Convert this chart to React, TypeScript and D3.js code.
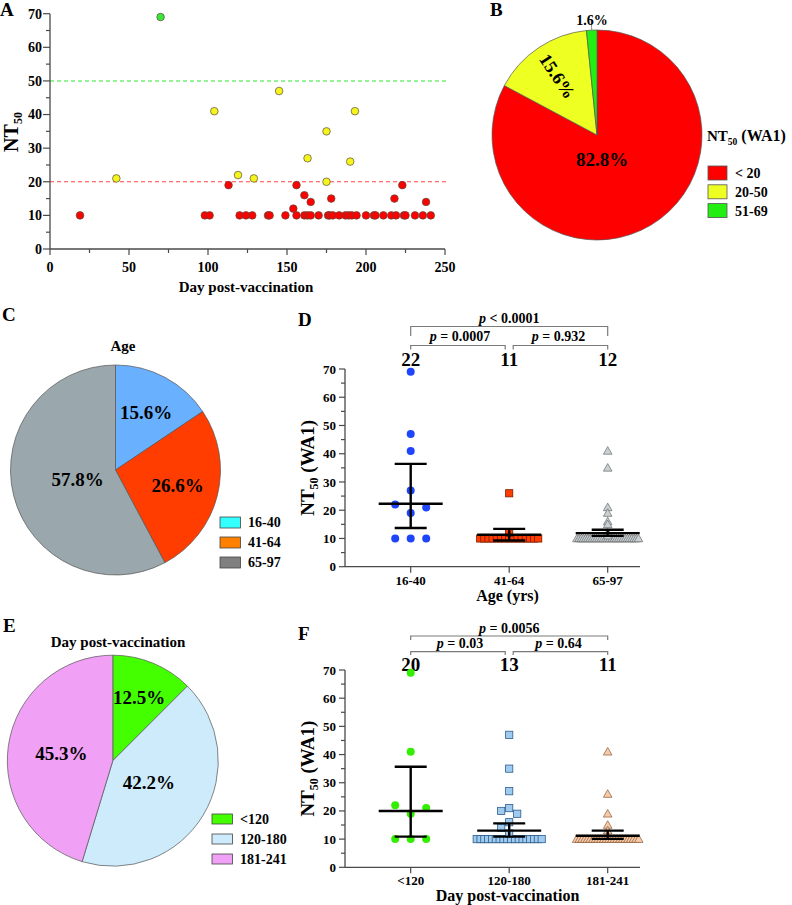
import React from "react";
import * as d3 from "d3";

const FONT = "Liberation Serif, DejaVu Serif, serif";

// ---------------- Panel A data ----------------
const redDay = [19, 98, 101, 113, 120, 124, 128, 138, 139, 149, 154, 156, 156, 161, 161, 163, 165, 165, 170, 176, 177, 178, 179, 183, 187, 189, 191, 194, 200, 205, 206, 211, 216, 218, 219, 223, 224, 225, 231, 236, 238, 241];
const redNT = [10, 10, 10, 19, 10, 10, 10, 10, 10, 10, 12, 10, 19, 10, 16, 10, 10, 14, 10, 10, 10, 15, 10, 10, 10, 10, 10, 10, 10, 10, 10, 10, 10, 15, 10, 19, 10, 10, 10, 10, 14, 10];
const yellowDay = [42, 104, 119, 129, 145, 163, 175, 175, 190, 193];
const yellowNT = [21, 41, 22, 21, 47, 27, 35, 20, 26, 41];
const greenDay = [70];
const greenNT = [69];
const aXTicks = [0, 50, 100, 150, 200, 250];
const aYTicks = [0, 10, 20, 30, 40, 50, 60, 70];
const aCutoffs = [50, 20];

// ---------------- Pie data ----------------
const ntCats = ["< 20", "20-50", "51-69"];
const ntPct = [82.8, 15.6, 1.6];
const ageCats = ["16-40", "41-64", "65-97"];
const agePct = [15.6, 26.6, 57.8];
const dayCats = ["<120", "120-180", "181-241"];
const dayPct = [12.5, 42.2, 45.3];

// ---------------- Panel D data ----------------
const age1640 = [69, 47, 41, 27, 19, 22, 21, 10, 10, 10];
const age4164 = [26, 12, 10, 10, 10, 10, 10, 10, 10, 10, 10, 10, 10, 10, 10, 10, 10];
const age6597 = [41, 35, 21, 19, 16, 15, 12, 11, 10, 10, 10, 10, 10, 10, 10, 10, 10, 10, 10, 10, 10, 10, 10, 10, 10, 10, 10, 10, 10, 10, 10, 10, 10, 10, 10, 10, 10];
const ageMean = [22.3, 11.3, 11.9];
const ageUpper = [36.4, 13.4, 13.1];
const ageLower = [13.7, 9.3, 10.9];
const ageCounts = ["22", "11", "12"];
const ageP = ["= 0.0007", "= 0.932", "< 0.0001"];

// ---------------- Panel F data ----------------
const day120 = [69, 41, 19, 22, 21, 10, 10, 10];
const day120180 = [47, 35, 27, 21, 20, 19, 16, 14, 12, 10, 10, 10, 10, 10, 10, 10, 10, 10, 10, 10, 10, 10, 10, 10, 10, 10, 10];
const day181241 = [41, 26, 19, 15, 13, 10, 10, 10, 10, 10, 10, 10, 10, 10, 10, 10, 10, 10, 10, 10, 10, 10, 10, 10, 10, 10, 10, 10, 10];
const dayMean = [20, 13, 11.2];
const dayUpper = [35.7, 15.6, 13];
const dayLower = [10.9, 10.9, 10.1];
const dayCounts = ["20", "13", "11"];
const dayP = ["= 0.03", "= 0.64", "= 0.0056"];

const dotYTicks = [0, 10, 20, 30, 40, 50, 60, 70];

const AXIS = "#4a4a4a";

function PanelA() {
  const x = d3.scaleLinear().domain([0, 250]).range([50, 445]);
  const y = d3.scaleLinear().domain([0, 70]).range([249, 13.7]);
  const xMinor = d3.range(25, 250, 50);
  const yMinor = d3.range(5, 70, 10);
  const cutColors = ["#2ee62e", "#ff4646"];
  const pts = (days: number[], vals: number[], fill: string) =>
    days.map((d, i) => (
      <circle key={fill + i} cx={x(d)} cy={y(vals[i])} r={3.8} fill={fill} stroke="#5a4a3a" strokeWidth={0.7} />
    ));
  return (
    <g>
      <text x={0} y={16} fontSize={19}>A</text>
      {aCutoffs.map((c, i) => (
        <line key={c} x1={x(0)} x2={447} y1={y(c)} y2={y(c)} stroke={cutColors[i]} strokeWidth={1.1} strokeDasharray="4,3" />
      ))}
      <line x1={x(0)} x2={x(0)} y1={y(0)} y2={y(70)} stroke={AXIS} strokeWidth={1.3} />
      <line x1={x(0)} x2={x(250)} y1={y(0)} y2={y(0)} stroke={AXIS} strokeWidth={1.3} />
      {aYTicks.map((t) => (
        <g key={"ay" + t}>
          <line x1={x(0) - 7} x2={x(0)} y1={y(t)} y2={y(t)} stroke={AXIS} strokeWidth={1.2} />
          <text x={42} y={y(t)} dy="0.35em" textAnchor="end" fontSize={14}>{t}</text>
        </g>
      ))}
      {yMinor.map((t) => (
        <line key={"aym" + t} x1={x(0) - 4} x2={x(0)} y1={y(t)} y2={y(t)} stroke={AXIS} strokeWidth={1.2} />
      ))}
      {aXTicks.map((t) => (
        <g key={"ax" + t}>
          <line x1={x(t)} x2={x(t)} y1={y(0)} y2={y(0) + 6} stroke={AXIS} strokeWidth={1.2} />
          <text x={x(t)} y={272} textAnchor="middle" fontSize={14}>{t}</text>
        </g>
      ))}
      {xMinor.map((t) => (
        <line key={"axm" + t} x1={x(t)} x2={x(t)} y1={y(0)} y2={y(0) + 4} stroke={AXIS} strokeWidth={1.2} />
      ))}
      <text x={246} y={292} textAnchor="middle" fontSize={15}>Day post-vaccination</text>
      <text transform="translate(18,132) rotate(-90)" textAnchor="middle" fontSize={20}>
        NT<tspan fontSize={12} dy={4}>50</tspan>
      </text>
      {pts(redDay, redNT, "#ff0000")}
      {pts(yellowDay, yellowNT, "#f5f51e")}
      {pts(greenDay, greenNT, "#3ae63a")}
    </g>
  );
}

function PanelB() {
  const cx = 597, cy = 135, r = 105;
  const colors = ["#ff0000", "#eeff22", "#22ee11"];
  const arcs = d3.pie<number>().sort(null)(ntPct);
  const arc = d3.arc<d3.PieArcDatum<number>>().innerRadius(0).outerRadius(r);
  const yMid = (arcs[1].startAngle + arcs[1].endAngle) / 2;
  const yl = [Math.sin(yMid) * 71, -Math.cos(yMid) * 71];
  const rot = (Math.atan2(Math.cos(yMid), -Math.sin(yMid)) * 180) / Math.PI;
  const gMid = (arcs[2].startAngle + arcs[2].endAngle) / 2;
  return (
    <g>
      <text x={490} y={16} fontSize={19}>B</text>
      <g transform={`translate(${cx},${cy})`}>
        {arcs.map((a, i) => (
          <path key={i} d={arc(a) || ""} fill={colors[i]} stroke="#555" strokeWidth={0.7} />
        ))}
        <text x={5} y={24} dy="0.35em" textAnchor="middle" fontSize={19}>{ntPct[0]}%</text>
        <text transform={`translate(${yl[0]},${yl[1]}) rotate(${rot})`} dy="0.35em" textAnchor="middle" fontSize={18}>{ntPct[1]}%</text>
        <line x1={Math.sin(gMid) * (r + 10)} y1={-Math.cos(gMid) * (r + 10)} x2={Math.sin(gMid) * r} y2={-Math.cos(gMid) * r} stroke="#777" strokeWidth={0.8} />
        <text x={-5} y={-115} dy="0.35em" textAnchor="middle" fontSize={14}>{ntPct[2]}%</text>
      </g>
      <text x={707} y={141} fontSize={15}>
        NT<tspan fontSize={9.5} dy={4}>50</tspan><tspan fontSize={16} dy={-4}> (WA1)</tspan>
      </text>
      {ntCats.map((c, i) => (
        <g key={c}>
          <rect x={708} y={166 + i * 18.8} width={19} height={14} fill={colors[i]} stroke="#555" strokeWidth={0.8} />
          <text x={735} y={173 + i * 18.8} dy="0.35em" fontSize={14}>{c}</text>
        </g>
      ))}
    </g>
  );
}

function Pie(props: {
  letter: string; lx: number; ly: number; title: string; tx: number; ty: number;
  cx: number; cy: number; r: number; pcts: number[]; cats: string[]; colors: string[]; legColors: string[];
  labelR: number[]; legX: number; legY: number; legStep: number; legH: number;
}) {
  const arcs = d3.pie<number>().sort(null)(props.pcts);
  const arc = d3.arc<d3.PieArcDatum<number>>().innerRadius(0).outerRadius(props.r);
  return (
    <g>
      <text x={props.lx} y={props.ly} fontSize={19}>{props.letter}</text>
      <text x={props.tx} y={props.ty} textAnchor="middle" fontSize={15}>{props.title}</text>
      <g transform={`translate(${props.cx},${props.cy})`}>
        {arcs.map((a, i) => (
          <path key={i} d={arc(a) || ""} fill={props.colors[i]} stroke="#555" strokeWidth={0.7} />
        ))}
        {arcs.map((a, i) => {
          const m = (a.startAngle + a.endAngle) / 2;
          return (
            <text key={"l" + i} x={Math.sin(m) * props.labelR[i]} y={-Math.cos(m) * props.labelR[i]} dy="0.35em" textAnchor="middle" fontSize={19}>
              {props.pcts[i]}%
            </text>
          );
        })}
      </g>
      {props.cats.map((c, i) => (
        <g key={c}>
          <rect x={props.legX} y={props.legY + i * props.legStep} width={20.5} height={props.legH} fill={props.legColors[i]} stroke="#444" strokeWidth={0.8} />
          <text x={props.legX + 28} y={props.legY + i * props.legStep + props.legH / 2} dy="0.35em" fontSize={14}>{c}</text>
        </g>
      ))}
    </g>
  );
}

function swarm(values: number[], y: (v: number) => number, step: number, maxHalf: number, collide: number) {
  const counts = new Map<number, number>();
  values.forEach((v) => counts.set(v, (counts.get(v) || 0) + 1));
  const placed: { v: number; dx: number }[] = [];
  counts.forEach((n, v) => {
    if (n > 1) {
      const half = Math.min(((n - 1) * step) / 2, maxHalf);
      for (let k = 0; k < n; k++) placed.push({ v, dx: -half + (2 * half * k) / (n - 1) });
    }
  });
  values.forEach((v) => {
    if ((counts.get(v) || 0) > 1) return;
    const cands = [0, -step, step, -2 * step, 2 * step];
    for (const c of cands) {
      const hit = placed.some((p) => Math.abs(y(p.v) - y(v)) < collide && Math.abs(p.dx - c) < collide);
      if (!hit) {
        placed.push({ v, dx: c });
        return;
      }
    }
    placed.push({ v, dx: 0 });
  });
  return placed;
}

type Marker = { shape: "circle" | "square" | "triangle"; fill: string; stroke: string; step: number; maxHalf: number; collide: number };

function DotPanel(props: {
  letter: string; lx: number; ly: number;
  cats: string[]; groups: number[][]; means: number[]; uppers: number[]; lowers: number[];
  counts: string[]; pvals: string[]; y0: number; y70: number; markers: Marker[];
  topTextY: number; topLineY: number; topLegY: number; lowTextY: number; lowLineY: number; lowLegY: number; countY: number;
  xTitle: string; tickY: number; xTitleY: number;
}) {
  const y = d3.scaleLinear().domain([0, 70]).range([props.y0, props.y70]);
  const x = d3.scalePoint<string>().domain(props.cats).range([410.7, 607.7]);
  const axX = 345;
  const minor = d3.range(5, 70, 10);
  const BR = "#7a7a7a";
  const cx = props.cats.map((c) => x(c) as number);
  const mk = (m: Marker, px: number, py: number, key: string) => {
    if (m.shape === "circle") return <circle key={key} cx={px} cy={py} r={4} fill={m.fill} />;
    if (m.shape === "square") return <rect key={key} x={px - 3.6} y={py - 3.6} width={7.2} height={7.2} fill={m.fill} stroke={m.stroke} strokeWidth={0.8} />;
    return <path key={key} d={`M${px},${py - 4.3}L${px + 4.3},${py + 3.3}L${px - 4.3},${py + 3.3}Z`} fill={m.fill} stroke={m.stroke} strokeWidth={0.7} />;
  };
  return (
    <g>
      <text x={props.lx} y={props.ly} fontSize={19}>{props.letter}</text>
      {/* brackets */}
      <path d={`M${cx[0]},${props.topLegY}V${props.topLineY}H${cx[2]}V${props.topLegY}`} fill="none" stroke={BR} strokeWidth={1.2} />
      <path d={`M${cx[0]},${props.lowLegY}V${props.lowLineY}H${cx[1] - 4}V${props.lowLegY}`} fill="none" stroke={BR} strokeWidth={1.2} />
      <path d={`M${cx[1] + 4},${props.lowLegY}V${props.lowLineY}H${cx[2]}V${props.lowLegY}`} fill="none" stroke={BR} strokeWidth={1.2} />
      <text x={(cx[0] + cx[2]) / 2} y={props.topTextY} textAnchor="middle" fontSize={14}>
        <tspan fontStyle="italic">p</tspan> {props.pvals[2]}
      </text>
      <text x={(cx[0] + cx[1]) / 2} y={props.lowTextY} textAnchor="middle" fontSize={14}>
        <tspan fontStyle="italic">p</tspan> {props.pvals[0]}
      </text>
      <text x={(cx[1] + cx[2]) / 2} y={props.lowTextY} textAnchor="middle" fontSize={14}>
        <tspan fontStyle="italic">p</tspan> {props.pvals[1]}
      </text>
      {props.counts.map((c, i) => (
        <text key={"c" + i} x={cx[i]} y={props.countY} textAnchor="middle" fontSize={19}>{c}</text>
      ))}
      {/* axes */}
      <line x1={axX} x2={axX} y1={y(0)} y2={y(70)} stroke={AXIS} strokeWidth={1.3} />
      <line x1={axX} x2={640} y1={y(0)} y2={y(0)} stroke={AXIS} strokeWidth={1.3} />
      {dotYTicks.map((t) => (
        <g key={"t" + t}>
          <line x1={axX - 6} x2={axX} y1={y(t)} y2={y(t)} stroke={AXIS} strokeWidth={1.2} />
          <text x={axX - 9} y={y(t)} dy="0.35em" textAnchor="end" fontSize={13}>{t}</text>
        </g>
      ))}
      {minor.map((t) => (
        <line key={"m" + t} x1={axX - 4} x2={axX} y1={y(t)} y2={y(t)} stroke={AXIS} strokeWidth={1.2} />
      ))}
      {props.cats.map((c, i) => (
        <g key={c}>
          <line x1={cx[i]} x2={cx[i]} y1={y(0)} y2={y(0) + 6} stroke={AXIS} strokeWidth={1.2} />
          <text x={cx[i]} y={props.tickY} textAnchor="middle" fontSize={13}>{c}</text>
        </g>
      ))}
      <text x={(axX + 640) / 2 + 15} y={props.xTitleY} textAnchor="middle" fontSize={16}>{props.xTitle}</text>
      <text transform={`translate(314,${(y(0) + y(70)) / 2}) rotate(-90)`} textAnchor="middle" fontSize={19}>
        NT<tspan fontSize={12} dy={4}>50</tspan><tspan dy={-4}> (WA1)</tspan>
      </text>
      {/* points */}
      {props.groups.map((g, gi) => {
        const m = props.markers[gi];
        const pl = swarm(g, y, m.step, m.maxHalf, m.collide);
        return <g key={"g" + gi}>{pl.map((p, k) => mk(m, cx[gi] + p.dx, y(p.v), gi + "-" + k))}</g>;
      })}
      {/* error bars */}
      {props.means.map((mv, i) => (
        <g key={"e" + i} stroke="#000" strokeWidth={2.4}>
          <line x1={cx[i]} x2={cx[i]} y1={y(props.lowers[i])} y2={y(props.uppers[i])} />
          <line x1={cx[i] - 32} x2={cx[i] + 32} y1={y(mv)} y2={y(mv)} />
          <line x1={cx[i] - 16} x2={cx[i] + 16} y1={y(props.uppers[i])} y2={y(props.uppers[i])} />
          <line x1={cx[i] - 16} x2={cx[i] + 16} y1={y(props.lowers[i])} y2={y(props.lowers[i])} />
        </g>
      ))}
    </g>
  );
}

export default function App() {
  return (
    <svg width={792} height={905} style={{ position: "absolute", left: 0, top: 0, background: "#fff", fontFamily: FONT, fontWeight: "bold" }}>
      <rect x={0} y={0} width={792} height={905} fill="#fff" />
      <PanelA />
      <PanelB />
      <Pie letter="C" lx={2} ly={321} title="Age" tx={123} ty={351} cx={115.5} cy={470} r={105}
        pcts={agePct} cats={ageCats} colors={["#69b0ff", "#ff3d00", "#9aa7ac"]} legColors={["#33ffff", "#ff8000", "#808080"]}
        labelR={[65, 64, 39]} legX={220} legY={517} legStep={20} legH={11} />
      <DotPanel letter="D" lx={298} ly={326} cats={ageCats} groups={[age1640, age4164, age6597]}
        means={ageMean} uppers={ageUpper} lowers={ageLower} counts={ageCounts} pvals={ageP}
        y0={566.7} y70={369}
        markers={[
          { shape: "circle", fill: "#1f45fa", stroke: "none", step: 15.5, maxHalf: 32, collide: 14 },
          { shape: "square", fill: "#ff3d00", stroke: "#7a1a00", step: 4.2, maxHalf: 29, collide: 5 },
          { shape: "triangle", fill: "#c9d1d5", stroke: "#6a6a6a", step: 2.2, maxHalf: 32, collide: 5 },
        ]}
        topTextY={323} topLineY={326.5} topLegY={336} lowTextY={341} lowLineY={345.5} lowLegY={349.5} countY={366}
        xTitle="Age (yrs)" tickY={585} xTitleY={601} />
      <Pie letter="E" lx={3} ly={632} title="Day post-vaccination" tx={118} ty={647} cx={112.8} cy={760.7} r={105.5}
        pcts={dayPct} cats={dayCats} colors={["#44ff00", "#cdebfa", "#f0a0f5"]} legColors={["#44ff00", "#cdebfa", "#f0a0f5"]}
        labelR={[69, 42, 52]} legX={212} legY={814} legStep={20} legH={10} />
      <DotPanel letter="F" lx={298} ly={640} cats={dayCats} groups={[day120, day120180, day181241]}
        means={dayMean} uppers={dayUpper} lowers={dayLower} counts={dayCounts} pvals={dayP}
        y0={867.3} y70={670}
        markers={[
          { shape: "circle", fill: "#33ee00", stroke: "none", step: 15.5, maxHalf: 32, collide: 14 },
          { shape: "square", fill: "#9ecbef", stroke: "#2e5c8a", step: 4, maxHalf: 32.5, collide: 6 },
          { shape: "triangle", fill: "#f8cba8", stroke: "#8a5a3c", step: 2.7, maxHalf: 32.5, collide: 5 },
        ]}
        topTextY={633} topLineY={636} topLegY={640} lowTextY={648} lowLineY={651.7} lowLegY={655} countY={671}
        xTitle="Day post-vaccination" tickY={885} xTitleY={901} />
    </svg>
  );
}
